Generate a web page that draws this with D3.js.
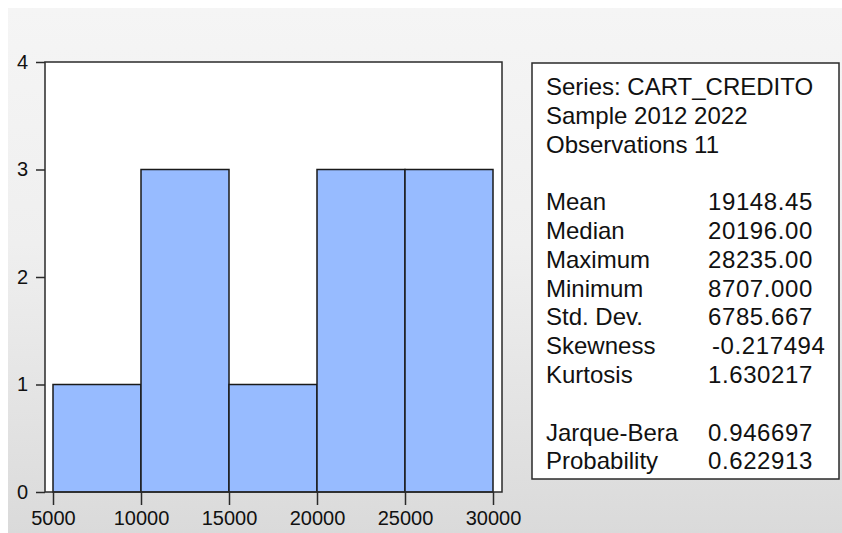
<!DOCTYPE html>
<html>
<head>
<meta charset="utf-8">
<script src="https://cdn.jsdelivr.net/npm/d3@7"></script>
<style>
  html, body { margin: 0; padding: 0; background: #ffffff; }
  svg { display: block; }
  text { font-family: "Liberation Sans", Arial, sans-serif; fill: #111; }
</style>
</head>
<body>
<script>
// ---- data ----
const binStarts = [5000, 10000, 15000, 20000, 25000];
const binWidth = 5000;
const counts = [1, 3, 1, 3, 3];
const xTicks = [5000, 10000, 15000, 20000, 25000, 30000];
const yTicks = [0, 1, 2, 3, 4];
const headerLines = ["Series: CART_CREDITO", "Sample 2012 2022", "Observations 11"];
const statLabels = ["Mean", "Median", "Maximum", "Minimum", "Std. Dev.", "Skewness", "Kurtosis"];
const statValues = ["19148.45", "20196.00", "28235.00", "8707.000", "6785.667", "-0.217494", "1.630217"];
const testLabels = ["Jarque-Bera", "Probability"];
const testValues = ["0.946697", "0.622913"];

// ---- layout ----
const W = 842, H = 533;
const frame = { left: 45, right: 502, top: 62, bottom: 492 };
const pad = 8;

const svg = d3.select("body").append("svg").attr("width", W).attr("height", H);

const defs = svg.append("defs");
const grad = defs.append("linearGradient").attr("id", "bg").attr("x1", 0).attr("y1", 0).attr("x2", 0).attr("y2", 1);
grad.append("stop").attr("offset", "0%").attr("stop-color", "#f5f5f5");
grad.append("stop").attr("offset", "45%").attr("stop-color", "#efefef");
grad.append("stop").attr("offset", "100%").attr("stop-color", "#dadada");

svg.append("rect").attr("x", 8).attr("y", 8).attr("width", W - 8).attr("height", H - 8).attr("fill", "url(#bg)");

const x = d3.scaleLinear().domain([5000, 30000]).range([frame.left + pad, frame.right - 9]);
const y = d3.scaleLinear().domain([0, 4]).range([frame.bottom, frame.top]);

// plot area
svg.append("rect")
  .attr("x", frame.left).attr("y", frame.top)
  .attr("width", frame.right - frame.left).attr("height", frame.bottom - frame.top)
  .attr("fill", "#ffffff");

// bars
svg.append("g").selectAll("rect").data(binStarts).join("rect")
  .attr("x", (d) => x(d))
  .attr("y", (d, i) => y(counts[i]))
  .attr("width", (d) => x(d + binWidth) - x(d))
  .attr("height", (d, i) => y(0) - y(counts[i]))
  .attr("fill", "#97bbff")
  .attr("stroke", "#1a1a1a")
  .attr("stroke-width", 1.5);

// frame
svg.append("rect")
  .attr("x", frame.left).attr("y", frame.top)
  .attr("width", frame.right - frame.left).attr("height", frame.bottom - frame.top)
  .attr("fill", "none").attr("stroke", "#2a2a2a").attr("stroke-width", 1.5);

// y axis
const yAxis = svg.append("g").attr("transform", `translate(${frame.left},0)`)
  .call(d3.axisLeft(y).tickValues(yTicks).tickFormat(d3.format("d")).tickSize(9).tickPadding(8));
yAxis.select(".domain").remove();
yAxis.selectAll("line").attr("stroke", "#2a2a2a").attr("stroke-width", 1.5);
yAxis.selectAll("text").style("font-size", "20px").attr("fill", "#111");

// x axis
const xAxis = svg.append("g").attr("transform", `translate(0,${frame.bottom})`)
  .call(d3.axisBottom(x).tickValues(xTicks).tickFormat(d3.format("d")).tickSize(13).tickPadding(6));
xAxis.select(".domain").remove();
xAxis.selectAll("line").attr("stroke", "#2a2a2a").attr("stroke-width", 1.5);
xAxis.selectAll("text").style("font-size", "20px").attr("fill", "#111");

// stats box
const box = { left: 532, top: 63, right: 839, bottom: 479 };
svg.append("rect")
  .attr("x", box.left).attr("y", box.top)
  .attr("width", box.right - box.left).attr("height", box.bottom - box.top)
  .attr("fill", "#ffffff").attr("stroke", "#2a2a2a").attr("stroke-width", 1.5);

const lineH = 28.8, base0 = 95, labelX = 546, valueX = 708;
const rows = [];
headerLines.forEach((t) => rows.push({ label: t, value: null }));
rows.push(null);
statLabels.forEach((t, i) => rows.push({ label: t, value: statValues[i] }));
rows.push(null);
testLabels.forEach((t, i) => rows.push({ label: t, value: testValues[i] }));

const g = svg.append("g").style("font-size", "24px");
rows.forEach((r, i) => {
  if (!r) return;
  const yy = base0 + i * lineH;
  g.append("text").attr("x", labelX).attr("y", yy).text(r.label);
  if (r.value !== null) {
    g.append("text")
      .attr("x", valueX + (r.value.startsWith("-") ? 4 : 0))
      .attr("y", yy)
      .style("letter-spacing", "0.6px")
      .text(r.value);
  }
});
</script>
</body>
</html>
